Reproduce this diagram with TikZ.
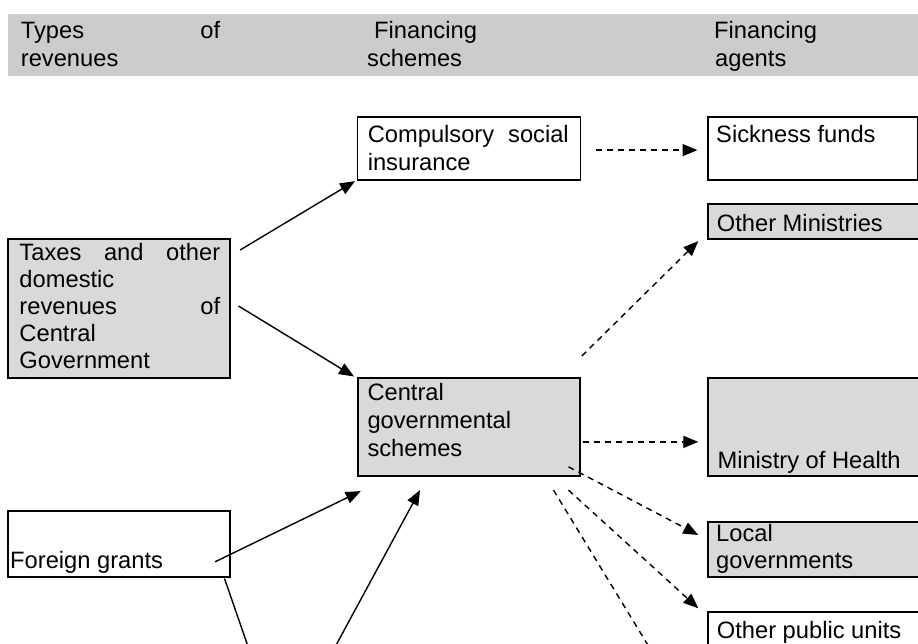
\documentclass[tikz,border=0pt]{standalone}
\usepackage{fontspec}
\setmainfont{Liberation Sans}
\usetikzlibrary{arrows.meta,calc}
\definecolor{headgray}{RGB}{204,204,204}
\definecolor{boxgray}{RGB}{217,217,217}
\begin{document}
\begin{tikzpicture}[x=1pt,y=-1pt,
  box/.style={draw=black, line width=1.8pt, rectangle, inner sep=0pt, anchor=north west},
  shaded/.style={box, fill=boxgray},
  plain/.style={box, fill=white},
  txt/.style={anchor=base west, inner sep=0pt, font=\fontsize{23.7pt}{27.6pt}\selectfont},
  link/.style={line width=1.4pt, -{Triangle[length=15pt,width=12pt]}},
  flow/.style={link, dash pattern=on 6pt off 5pt}]

\path[use as bounding box, fill=white] (0,0) rectangle (918,643);
\clip (0,0) rectangle (918,643);

% column headings
\node[fill=headgray, inner sep=0pt, anchor=north west, minimum width=920pt, minimum height=62pt] (head) at (8,14) {};
\node[txt] (h1a) at (20.7,38) {\hbox to 199.3pt{Types\hfill of}};
\node[txt] (h1b) at (20.7,66) {revenues};
\node[txt] (h2a) at (374,38) {Financing};
\node[txt] (h2b) at (367,66) {schemes};
\node[txt] (h3a) at (714,38) {Financing};
\node[txt] (h3b) at (715,66) {agents};

% revenues
\node[shaded, minimum width=222pt, minimum height=138.4pt] (taxes) at (7.3,238.3) {};
\node[txt] (taxes1) at (19.3,260) {\hbox to 200.7pt{Taxes\hfill and\hfill other}};
\node[txt] (taxes2) at (19.3,287) {domestic};
\node[txt] (taxes3) at (19.3,314) {\hbox to 200.7pt{revenues\hfill of}};
\node[txt] (taxes4) at (19.3,341) {Central};
\node[txt] (taxes5) at (19.3,368) {Government};

\node[plain, minimum width=222pt, minimum height=66pt] (foreign) at (7.3,510) {};
\node[txt] (foreign1) at (10,568) {Foreign grants};

% schemes
\node[plain, minimum width=223pt, minimum height=62.7pt] (comp) at (356.6,116) {};
\node[txt] (comp1) at (367.6,142) {\hbox to 201pt{Compulsory\hfill social}};
\node[txt] (comp2) at (367.6,170.5) {insurance};

\node[shaded, minimum width=222.6pt, minimum height=98.3pt] (central) at (356.7,376.7) {};
\node[txt] (central1) at (367.3,400) {Central};
\node[txt] (central2) at (367.3,428.3) {governmental};
\node[txt] (central3) at (367.3,456.7) {schemes};

% agents
\node[plain, minimum width=210.3pt, minimum height=62.7pt] (sick) at (706.7,116) {};
\node[txt] (sick1) at (716,142) {Sickness funds};

\node[shaded, minimum width=220pt, minimum height=35pt] (othermin) at (706.7,202.7) {};
\node[txt] (othermin1) at (716.7,231.7) {Other Ministries};

\node[shaded, minimum width=220pt, minimum height=98.3pt] (moh) at (706.7,376.7) {};
\node[txt] (moh1) at (717.3,468.3) {Ministry of Health};

\node[shaded, minimum width=220pt, minimum height=55pt] (local) at (706.7,521) {};
\node[txt] (local1) at (716,541.7) {Local};
\node[txt] (local2) at (716,568) {governments};

\node[plain, minimum width=220pt, minimum height=60pt] (otherpub) at (706.7,610.7) {};
\node[txt] (otherpub1) at (716.7,638) {Other public units};

% free ends below the lower edge
\coordinate (gdown) at (252.7,660);
\coordinate (cup) at (328,660);
\coordinate (sdown) at (657,660);

% revenue flows
\draw[link] ([shift={(9,11.7)}]taxes.north east) -- ([shift={(-1.6,0.6)}]comp.south west);
\draw[link] ([shift={(7.4,67.7)}]taxes.north east) -- ([shift={(-2.7,-0.2)}]central.north west);
\draw[link] ([shift={(-16,-16)}]foreign.south east) -- ([shift={(4,14.3)}]central.south west);
\draw[line width=1.4pt] ([shift={(-6.6,0.7)}]foreign.south east) -- (gdown);
\draw[link] (cup) -- ([shift={(63.3,13.3)}]central.south west);

% scheme to agent flows
\draw[flow] ([shift={(14.4,1.85)}]comp.east) -- ([shift={(-9.2,1.85)}]sick.west);
\draw[flow] ([shift={(0.7,-20.7)}]central.north east) -- ([shift={(-8.4,1.6)}]othermin.south west);
\draw[flow] ([shift={(1.4,15.15)}]central.east) -- ([shift={(-8.4,15.15)}]moh.west);
\draw[flow] ([shift={(-12.6,-10)}]central.south east) -- ([shift={(-8.4,14)}]local.north west);
\draw[flow] ([shift={(-12.6,13.3)}]central.south east) -- ([shift={(-8.4,-2.4)}]otherpub.north west);
\draw[flow, -] ([shift={(-27.6,13.3)}]central.south east) -- (sdown);
\end{tikzpicture}
\end{document}
